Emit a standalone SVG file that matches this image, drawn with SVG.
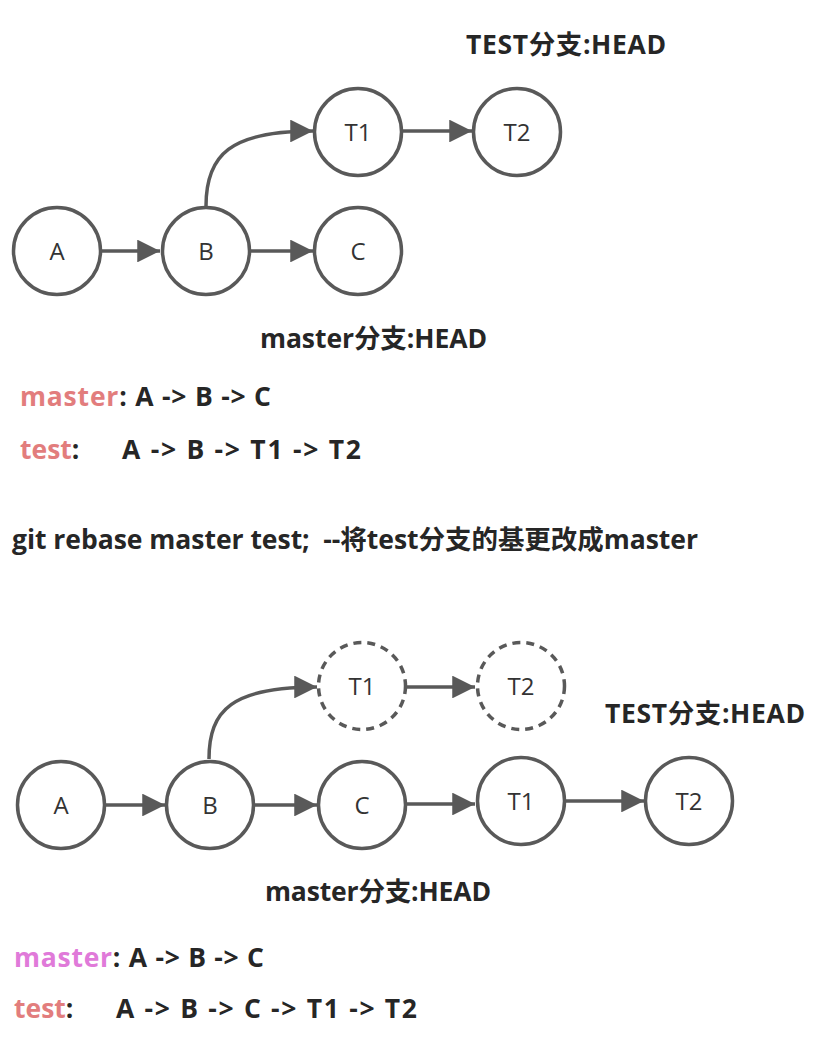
<svg xmlns="http://www.w3.org/2000/svg" width="828" height="1049" viewBox="0 0 828 1049">
<style>
.n{fill:#fff;stroke:#595959;stroke-width:3.5}
.d{fill:#fff;stroke:#595959;stroke-width:3.5;stroke-dasharray:8 6}
.nt{font-family:"Open Sans","Noto Sans CJK SC",sans-serif;font-size:24px;fill:#333;text-anchor:middle}
.e{fill:none;stroke:#595959;stroke-width:3.5;marker-end:url(#ah)}
.b{font-family:"Open Sans","Noto Sans CJK SC",sans-serif;font-weight:bold;font-size:26.5px;fill:#262626;white-space:pre}
.pk{fill:#E27D7D}
.vi{fill:#E07AD9}
</style>
<defs>
<marker id="ah" viewBox="0 0 10 10" refX="10" refY="5" markerWidth="6.5" markerHeight="6.5" markerUnits="strokeWidth" orient="auto">
<path d="M0,0 L10,5 L0,10 Z" fill="#595959"/>
</marker>
</defs>
<g id="connectors">
<path class="e" d="M102,251 L160,251"/>
<path class="e" d="M251,251 L313,251"/>
<path class="e" d="M206,206 C206,155 230,131 313,131"/>
<path class="e" d="M403,131 L472,131"/>
<path class="e" d="M106,805 L165,805"/>
<path class="e" d="M255,805 L317,805"/>
<path class="e" d="M209,759 C209,710 232,687 317,687"/>
<path class="e" d="M407,687 L475,687"/>
<path class="e" d="M407,804 L475,804"/>
<path class="e" d="M566,801 L644,801"/>
</g>
<g id="nA1"><circle class="n" cx="57" cy="251" r="43.5"/><text class="nt" x="57" y="259.5">A</text></g>
<g id="nB1"><circle class="n" cx="206" cy="251" r="43.5"/><text class="nt" x="206" y="259.5">B</text></g>
<g id="nC1"><circle class="n" cx="358" cy="251" r="43.5"/><text class="nt" x="358" y="259.5">C</text></g>
<g id="nT11"><circle class="n" cx="358" cy="132" r="43.5"/><text class="nt" x="358" y="140.5">T1</text></g>
<g id="nT21"><circle class="n" cx="517" cy="132" r="43.5"/><text class="nt" x="517" y="140.5">T2</text></g>
<g id="nA2"><circle class="n" cx="61" cy="805" r="43.5"/><text class="nt" x="61" y="813.5">A</text></g>
<g id="nB2"><circle class="n" cx="210" cy="805" r="43.5"/><text class="nt" x="210" y="813.5">B</text></g>
<g id="nC2"><circle class="n" cx="362" cy="805" r="43.5"/><text class="nt" x="362" y="813.5">C</text></g>
<g id="nT1d"><circle class="d" cx="362" cy="686" r="43.5"/><text class="nt" x="362" y="694.5">T1</text></g>
<g id="nT2d"><circle class="d" cx="521" cy="686" r="43.5"/><text class="nt" x="521" y="694.5">T2</text></g>
<g id="nT12"><circle class="n" cx="521" cy="801" r="43.5"/><text class="nt" x="521" y="809.5">T1</text></g>
<g id="nT22"><circle class="n" cx="689" cy="801" r="43.5"/><text class="nt" x="689" y="809.5">T2</text></g>
<g id="labels">
<text class="b" x="466" y="54" textLength="200">TEST分支:HEAD</text>
<text class="b" x="260" y="348" textLength="227">master分支:HEAD</text>
<text class="b" x="20" y="406" textLength="251"><tspan class="pk">master</tspan>: A -&gt; B -&gt; C</text>
<text class="b" x="20" y="459"><tspan class="pk">test</tspan>:</text>
<text class="b" x="122" y="459" textLength="239">A -&gt; B -&gt; T1 -&gt; T2</text>
<text class="b" x="12" y="549" textLength="686">git rebase master test;  --将test分支的基更改成master</text>
<text class="b" x="605" y="723" textLength="200">TEST分支:HEAD</text>
<text class="b" x="265" y="901" textLength="226">master分支:HEAD</text>
<text class="b" x="14" y="967" textLength="250"><tspan class="vi">master</tspan>: A -&gt; B -&gt; C</text>
<text class="b" x="14" y="1018"><tspan class="pk">test</tspan>:</text>
<text class="b" x="116" y="1018" textLength="301">A -&gt; B -&gt; C -&gt; T1 -&gt; T2</text>
</g>
</svg>
